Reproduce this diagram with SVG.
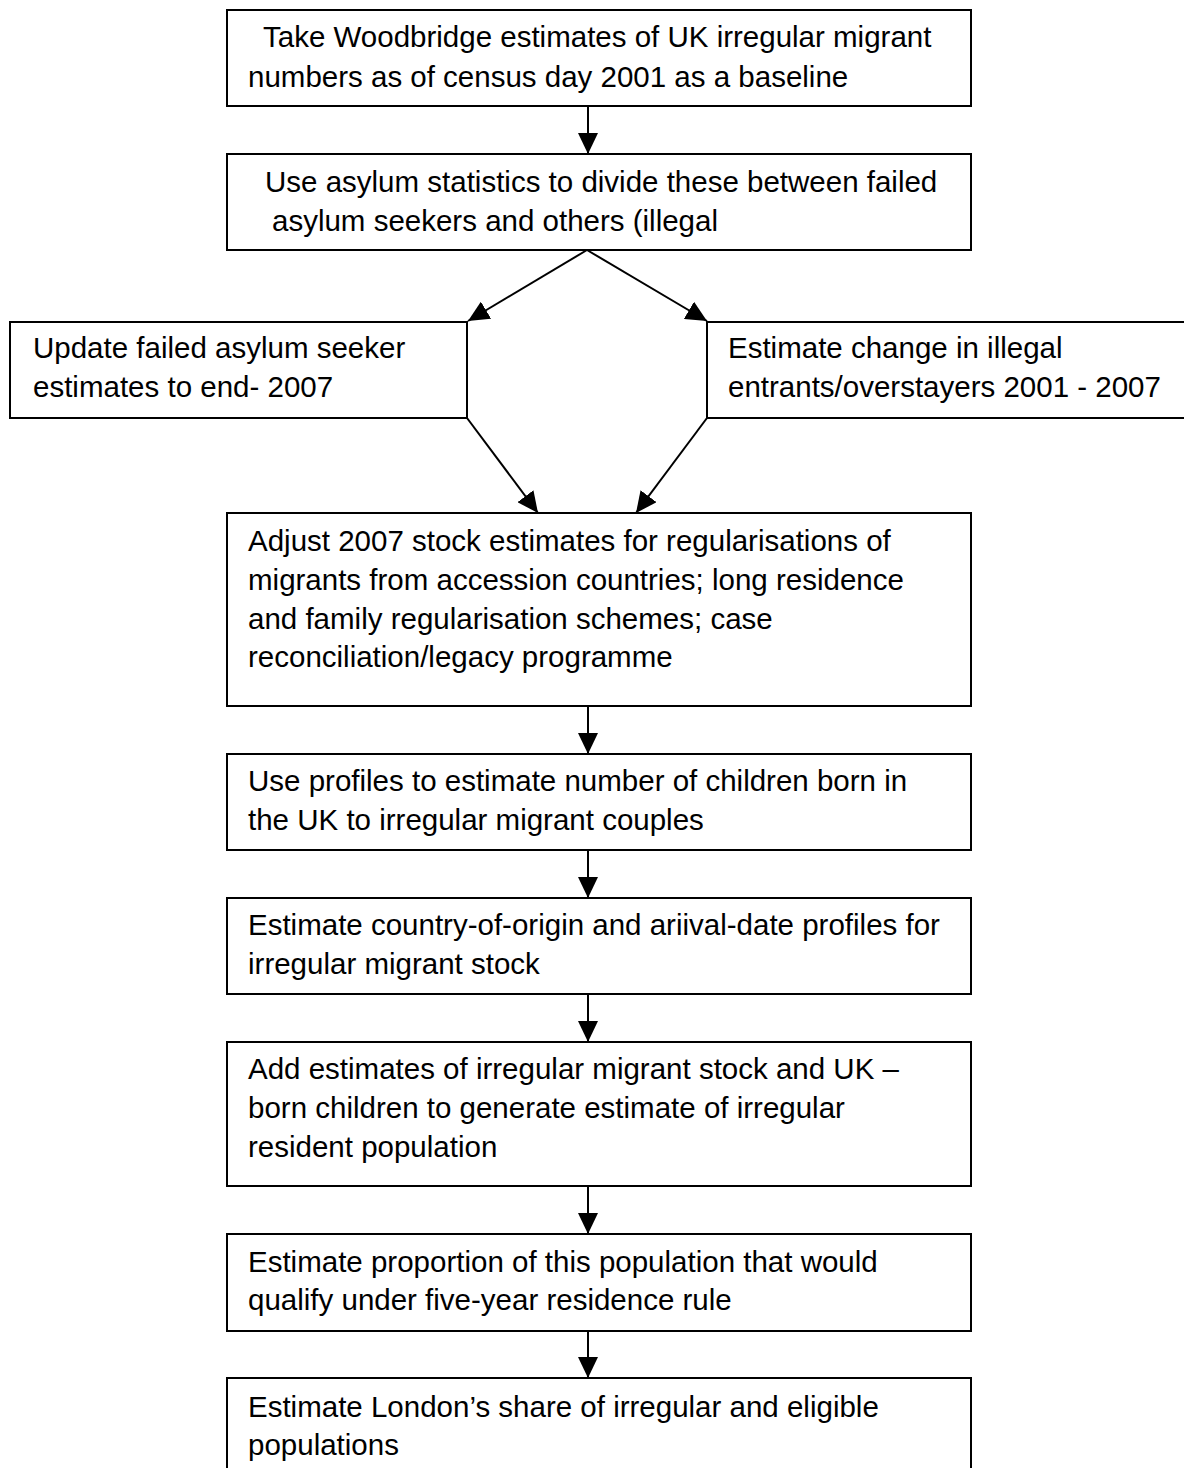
<svg xmlns="http://www.w3.org/2000/svg" width="1184" height="1468" viewBox="0 0 1184 1468">
<style>
.box{fill:#fff;stroke:#000;stroke-width:2}
.t{font-family:"Liberation Sans",Arial,sans-serif;font-size:29.5px;fill:#000}
.c{stroke:#000;stroke-width:2;fill:none;marker-end:url(#ah)}
</style>
<defs>
<marker id="ah" markerUnits="userSpaceOnUse" markerWidth="22" markerHeight="20" refX="21" refY="10" orient="auto" viewBox="0 0 22 20">
<path d="M0,0 L21,10 L0,20 z" fill="#000"/>
</marker>
</defs>
<rect width="1184" height="1468" fill="#fff"/>
<g id="connectors">
<line class="c" x1="588" y1="106" x2="588" y2="154"/>
<line class="c" x1="587" y1="250" x2="468" y2="321"/>
<line class="c" x1="587" y1="250" x2="707" y2="321"/>
<line class="c" x1="467" y1="418" x2="538" y2="513"/>
<line class="c" x1="707" y1="418" x2="636" y2="513"/>
<line class="c" x1="588" y1="706" x2="588" y2="754"/>
<line class="c" x1="588" y1="850" x2="588" y2="898"/>
<line class="c" x1="588" y1="994" x2="588" y2="1042"/>
<line class="c" x1="588" y1="1186" x2="588" y2="1234"/>
<line class="c" x1="588" y1="1331" x2="588" y2="1378"/>
</g>
<g id="n1"><rect class="box" x="227" y="10" width="744" height="96"/>
<text class="t" x="263" y="47">Take Woodbridge estimates of UK irregular migrant</text>
<text class="t" x="248" y="87">numbers as of census day 2001 as a baseline</text></g>
<g id="n2"><rect class="box" x="227" y="154" width="744" height="96"/>
<text class="t" x="265" y="192">Use asylum statistics to divide these between failed</text>
<text class="t" x="272" y="231">asylum seekers and others (illegal</text></g>
<g id="n3"><rect class="box" x="10" y="322" width="457" height="96"/>
<text class="t" x="33" y="358">Update failed asylum seeker</text>
<text class="t" x="33" y="397">estimates to end- 2007</text></g>
<g id="n4"><rect class="box" x="707" y="322" width="490" height="96"/>
<text class="t" x="728" y="358">Estimate change in illegal</text>
<text class="t" x="728" y="397">entrants/overstayers 2001 - 2007</text></g>
<g id="n5"><rect class="box" x="227" y="513" width="744" height="193"/>
<text class="t" x="248" y="551">Adjust 2007 stock estimates for regularisations of</text>
<text class="t" x="248" y="590">migrants from accession countries; long residence</text>
<text class="t" x="248" y="629">and family regularisation schemes; case</text>
<text class="t" x="248" y="667">reconciliation/legacy programme</text></g>
<g id="n6"><rect class="box" x="227" y="754" width="744" height="96"/>
<text class="t" x="248" y="791">Use profiles to estimate number of children born in</text>
<text class="t" x="248" y="830">the UK to irregular migrant couples</text></g>
<g id="n7"><rect class="box" x="227" y="898" width="744" height="96"/>
<text class="t" x="248" y="935">Estimate country-of-origin and ariival-date profiles for</text>
<text class="t" x="248" y="974">irregular migrant stock</text></g>
<g id="n8"><rect class="box" x="227" y="1042" width="744" height="144"/>
<text class="t" x="248" y="1079">Add estimates of irregular migrant stock and UK –</text>
<text class="t" x="248" y="1118">born children to generate estimate of irregular</text>
<text class="t" x="248" y="1157">resident population</text></g>
<g id="n9"><rect class="box" x="227" y="1234" width="744" height="97"/>
<text class="t" x="248" y="1272">Estimate proportion of this population that would</text>
<text class="t" x="248" y="1310">qualify under five-year residence rule</text></g>
<g id="n10"><rect class="box" x="227" y="1378" width="744" height="100"/>
<text class="t" x="248" y="1417">Estimate London’s share of irregular and eligible</text>
<text class="t" x="248" y="1455">populations</text></g>
</svg>
